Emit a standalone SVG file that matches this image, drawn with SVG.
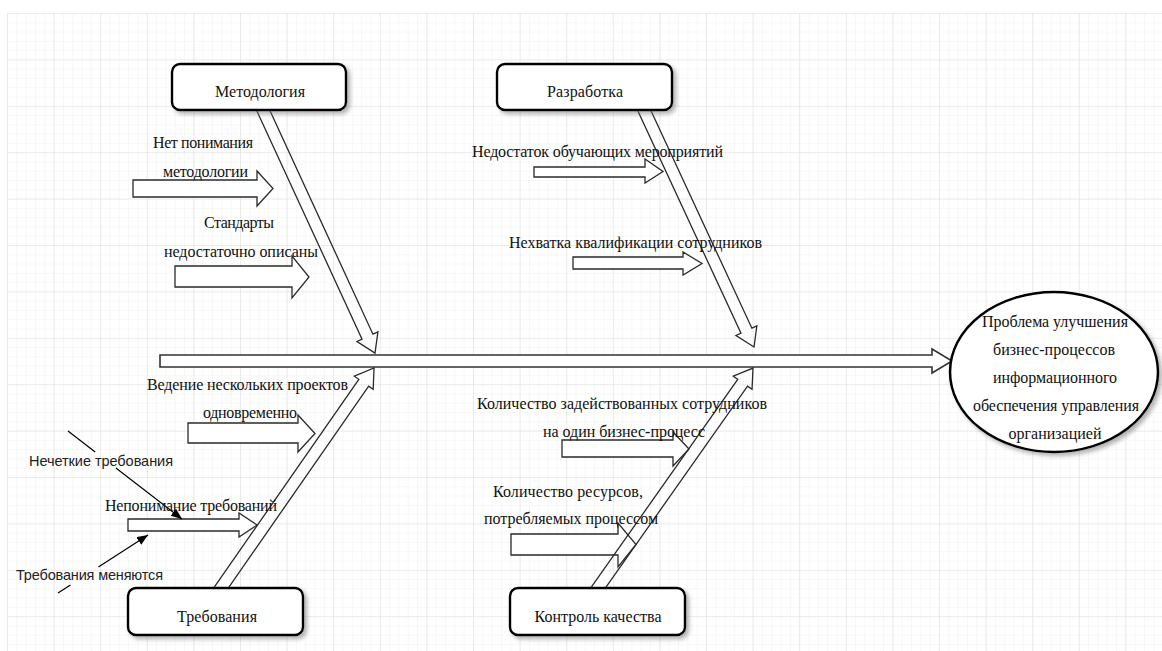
<svg xmlns="http://www.w3.org/2000/svg" width="1162" height="651" viewBox="0 0 1162 651">
<defs>
<pattern id="minor" patternUnits="userSpaceOnUse" x="7" y="13" width="9.32" height="9.28">
<path d="M0,0 H9.32 M0,0 V9.28" fill="none" stroke="#f1f1f1" stroke-width="1"/>
</pattern>
<pattern id="major" patternUnits="userSpaceOnUse" x="7" y="13" width="46.6" height="46.4">
<path d="M0,0 H46.6 M0,0 V46.4" fill="none" stroke="#dedede" stroke-width="1"/>
</pattern>
<filter id="shadow" x="-20%" y="-20%" width="140%" height="150%">
<feDropShadow dx="3" dy="3" stdDeviation="2" flood-color="#777" flood-opacity="0.55"/>
</filter>
<marker id="tri" markerUnits="userSpaceOnUse" markerWidth="12" markerHeight="10" refX="11" refY="4.5" orient="auto">
<path d="M0,0 L11,4.5 L0,9 Z" fill="#000"/>
</marker>
<style>
.hollow{fill:#fff;stroke:#2a2a2a;stroke-width:1.3;stroke-linejoin:miter}
.bone{fill:none;stroke:#2a2a2a;stroke-width:1.3;stroke-linejoin:miter}
.spine{fill:#fff;stroke:#333;stroke-width:1.6}
.thin{fill:none;stroke:#000;stroke-width:1.2}
.box{fill:#fff;stroke:#000;stroke-width:2.4;filter:url(#shadow)}
.serif{font-family:"Liberation Serif","Times New Roman",serif;font-size:16px;fill:#111}
.sans{font-family:"Liberation Sans",Arial,sans-serif;font-size:14.5px;fill:#222}
</style>
</defs>
<rect x="0" y="0" width="1162" height="651" fill="#fff"/>
<rect x="7" y="13" width="1155" height="638" fill="url(#minor)"/>
<rect x="7" y="13" width="1155" height="638" fill="url(#major)"/>

<g id="connectors">
<polygon class="spine" points="160,355 932,355 932,349 952,361 932,373 932,367 160,367"/>
<!-- cause arrows -->
<polygon class="hollow" points="133,180 257,180 257,171 273,188.5 257,206 257,197 133,197"/>
<polygon class="hollow" points="175,266 292,266 292,256 309,277 292,298 292,287 175,287"/>
<polygon class="hollow" points="534,167 645,167 645,159 663,171.5 645,183 645,177 534,177"/>
<polygon class="hollow" points="573,257 683,257 683,252 702,263.5 683,275 683,269 573,269"/>
<polygon class="hollow" points="188,423 298,423 298,415 315,433.5 298,452 298,443 188,443"/>
<polygon class="hollow" points="128,519 239,519 239,513 257,525 239,537 239,531 128,531"/>
<polygon class="hollow" points="562,440 673,440 673,432 689,449 673,466 673,457 562,457"/>
<polygon class="hollow" points="511,534 618,534 618,523 636,544.5 618,567 618,555 511,555"/>
<!-- bones -->
<path class="bone" transform="translate(258,99.1) rotate(65.26)" d="M0,-6 H261.6 V-11.5 L279.6,0 L261.6,11.5 V6 H0 Z"/>
<path class="bone" transform="translate(638.95,99.12) rotate(65.1)" d="M0,-6 H255.3 V-11.5 L273.3,0 L255.3,11.5 V6 H0 Z"/>
<path class="bone" transform="translate(214.15,597.85) rotate(-55.18)" d="M0,-6 H262 V-11.5 L280,0 L262,11.5 V6 H0 Z"/>
<path class="bone" transform="translate(591.09,597.81) rotate(-54.83)" d="M0,-6 H263.1 V-11.5 L281.1,0 L263.1,11.5 V6 H0 Z"/>
<!-- thin sub-cause lines -->
<path class="thin" d="M68,431 L95.2,452 M115.9,468 L182,519" marker-end="url(#tri)"/>
<path class="thin" d="M58,593 L70.4,585 M98.4,567 L148,535" marker-end="url(#tri)"/>
</g>

<g id="node-metodologiya">
<rect class="box" x="172" y="64" width="174" height="46" rx="8"/>
<text class="serif" x="260" y="97" text-anchor="middle" textLength="90">Методология</text>
</g>
<g id="node-razrabotka">
<rect class="box" x="497" y="64" width="175" height="46" rx="8"/>
<text class="serif" x="585" y="97" text-anchor="middle" textLength="76">Разработка</text>
</g>
<g id="node-trebovaniya">
<rect class="box" x="128" y="588" width="175" height="47" rx="8"/>
<text class="serif" x="217" y="622" text-anchor="middle" textLength="80">Требования</text>
</g>
<g id="node-kontrol">
<rect class="box" x="510" y="588" width="175" height="47" rx="8"/>
<text class="serif" x="598" y="622" text-anchor="middle" textLength="127">Контроль качества</text>
</g>
<g id="node-problem">
<ellipse cx="1054" cy="372" rx="104" ry="80" fill="#fff" stroke="#000" stroke-width="2.5" filter="url(#shadow)"/>
<text class="serif" x="1055" y="327" text-anchor="middle" textLength="146">Проблема улучшения</text>
<text class="serif" x="1054" y="355" text-anchor="middle" textLength="122">бизнес-процессов</text>
<text class="serif" x="1055" y="383" text-anchor="middle" textLength="124">информационного</text>
<text class="serif" x="1056" y="411" text-anchor="middle" textLength="166">обеспечения управления</text>
<text class="serif" x="1055" y="439" text-anchor="middle" textLength="93">организацией</text>
</g>

<g id="cause-net-ponimaniya">
<text class="serif" x="153" y="148" textLength="100">Нет понимания</text>
<text class="serif" x="163" y="177" textLength="85">методологии</text>
</g>
<g id="cause-standarty">
<text class="serif" x="204" y="228" textLength="70">Стандарты</text>
<text class="serif" x="164" y="257" textLength="154">недостаточно описаны</text>
</g>
<g id="cause-nedostatok">
<text class="serif" x="472" y="157" textLength="251">Недостаток обучающих мероприятий</text>
</g>
<g id="cause-nehvatka">
<text class="serif" x="509" y="248" textLength="253">Нехватка квалификации сотрудников</text>
</g>
<g id="cause-vedenie">
<text class="serif" x="147" y="390" textLength="201">Ведение нескольких проектов</text>
<text class="serif" x="203" y="418" textLength="94">одновременно</text>
</g>
<g id="cause-neponimanie">
<text class="serif" x="105" y="511" textLength="172">Непонимание требований</text>
</g>
<g id="cause-kolichestvo-sotr">
<text class="serif" x="477" y="409" textLength="290">Количество задействованных сотрудников</text>
<text class="serif" x="543" y="437" textLength="162">на один бизнес-процесс</text>
</g>
<g id="cause-kolichestvo-res">
<text class="serif" x="493" y="497" textLength="150">Количество ресурсов,</text>
<text class="serif" x="484" y="524" textLength="174">потребляемых процессом</text>
</g>
<g id="sub-nechetkie">
<text class="sans" x="29" y="466" textLength="144">Нечеткие требования</text>
</g>
<g id="sub-menyayutsya">
<text class="sans" x="16" y="580" textLength="147">Требования меняются</text>
</g>
</svg>
